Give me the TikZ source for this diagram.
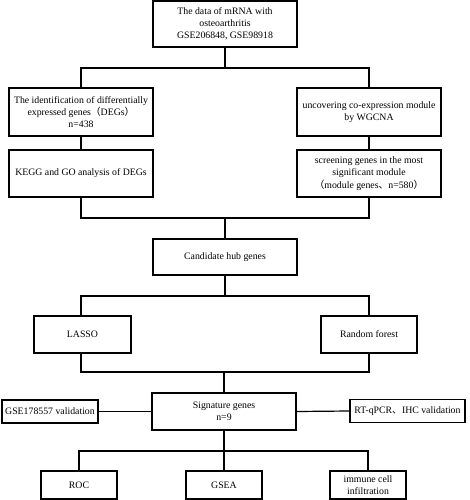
\documentclass[tikz,border=0pt]{standalone}
\usepackage{fontspec}
\setmainfont{Liberation Serif}
\newfontfamily\cjk{Noto Sans CJK SC}
\newcommand{\lp}{{\cjk （}}
\newcommand{\rp}{{\cjk ）}}
\newcommand{\dun}{{\cjk 、}}
\begin{document}
\begin{tikzpicture}[x=1pt,y=-1pt,
  box/.style={draw,line width=1.2pt,rectangle,align=center,inner sep=1pt,
    font=\fontsize{9.8}{12.2}\selectfont},
  conn/.style={line width=1.2pt}]
\useasboundingbox (0,0) rectangle (469,500);
\node[box,minimum width=144pt,minimum height=46pt] (top) at (225,24) {The data of mRNA with\\osteoarthritis\\GSE206848, GSE98918};
\node[box,minimum width=144pt,minimum height=48pt] (degs) at (81,112) {The identification of differentially\\expressed genes\lp DEGs\rp\\n=438};
\node[box,minimum width=144pt,minimum height=48pt] (wgcna) at (369,112) {uncovering co-expression module\\by WGCNA};
\node[box,minimum width=144pt,minimum height=47pt] (kegg) at (81,173.5) {KEGG and GO analysis of DEGs};
\node[box,minimum width=144pt,minimum height=47pt] (screen) at (369,173.5) {screening genes in the most\\significant module\\\lp module genes\dun n=580\rp};
\node[box,minimum width=144pt,minimum height=36pt] (cand) at (225,257) {Candidate hub genes};
\node[box,minimum width=97pt,minimum height=37pt] (lasso) at (82.5,334.5) {LASSO};
\node[box,minimum width=96pt,minimum height=37pt] (rf) at (369,334.5) {Random forest};
\node[box,minimum width=144pt,minimum height=37pt] (sig) at (224,411.5) {Signature genes\\n=9};
\node[box,minimum width=96pt,minimum height=23pt] (gse) at (50,411.5) {GSE178557 validation};
\node[box,minimum width=115pt,minimum height=23pt] (rt) at (407.5,411) {RT-qPCR\dun IHC validation};
\node[box,minimum width=76pt,minimum height=28pt] (roc) at (79,485) {ROC};
\node[box,minimum width=76pt,minimum height=28pt] (gsea) at (224,485) {GSEA};
\node[box,minimum width=76pt,minimum height=28pt] (imm) at (368,485) {immune cell\\infiltration};
\coordinate (j1) at (225,68);
\coordinate (j2) at (225,218);
\coordinate (j3) at (225,296);
\coordinate (j4) at (224,372);
\coordinate (j5) at (224,451);
\draw[conn] (top.south) -- (j1);
\draw[conn] (degs.north) |- (j1) -| (wgcna.north);
\draw[conn] (degs.south) -- (kegg.north);
\draw[conn] (wgcna.south) -- (screen.north);
\draw[conn] (kegg.south) |- (j2) -| (screen.south);
\draw[conn] (j2) -- (cand.north);
\draw[conn] (cand.south) -- (j3);
\draw[conn] (lasso.north -| kegg.south) |- (j3) -| (rf.north);
\draw[conn] (lasso.south -| kegg.south) |- (j4) -| (rf.south);
\draw[conn] (j4) -- (sig.north);
\draw[conn] (gse.east) -- (sig.west);
\draw[conn] (sig.east) -- (rt.west);
\draw[conn] (sig.south) -- (j5);
\draw[conn] (roc.north) |- (j5) -| (imm.north);
\draw[conn] (j5) -- (gsea.north);
\end{tikzpicture}
\end{document}
